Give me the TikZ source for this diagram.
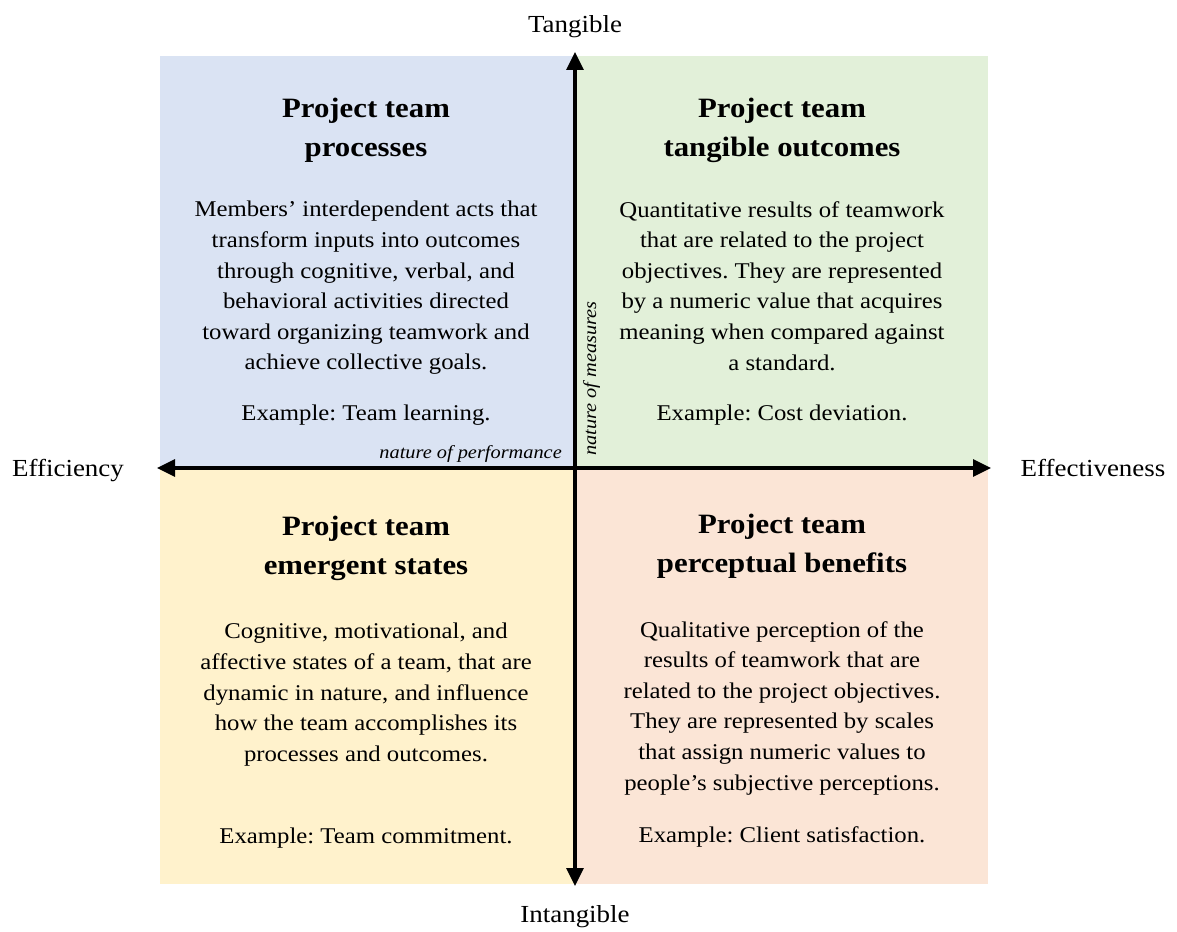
\documentclass[tikz,border=0pt]{standalone}
\usepackage{fontspec}
\setmainfont[FakeStretch=1.1]{Liberation Serif}
\usetikzlibrary{arrows.meta}
\definecolor{qblue}{HTML}{DAE3F3}
\definecolor{qgreen}{HTML}{E2F0D9}
\definecolor{qyellow}{HTML}{FFF2CC}
\definecolor{qpink}{HTML}{FBE5D6}
\frenchspacing
\begin{document}
\begin{tikzpicture}[x=1pt,y=-1pt,
  ttl/.style={anchor=north,align=center,inner sep=0pt,font=\fontsize{28}{39}\selectfont\bfseries},
  body/.style={anchor=north,align=center,inner sep=0pt,font=\fontsize{22.5}{30.6}\selectfont\frenchspacing},
  axislbl/.style={inner sep=0pt,font=\fontsize{24.5}{28}\selectfont},
  axisname/.style={inner sep=0pt,font=\fontsize{18.5}{22}\selectfont\itshape},
  axis/.style={line width=3.2pt,-{Triangle[length=18pt,width=17pt]}}]
\useasboundingbox (0,0) rectangle (1177,931);
% quadrant backgrounds
\fill[qblue]   (160,56) rectangle (575,468);
\fill[qgreen]  (575,56) rectangle (988,468);
\fill[qyellow] (160,468) rectangle (575,884);
\fill[qpink]   (575,468) rectangle (988,884);
% centre and axis ends
\coordinate (o) at (575,468);
\coordinate (up) at (575,52);
\coordinate (dn) at (575,886);
\coordinate (lt) at (157,468);
\coordinate (rt) at (991,468);
\draw[axis] (o) -- (up);
\draw[axis] (o) -- (dn);
\draw[axis] (o) -- (lt);
\draw[axis] (o) -- (rt);
% axis labels
\node[axislbl] (tang) at (575,27) {Tangible};
\node[axislbl] (intang) at (575,917) {Intangible};
\node[axislbl] (eff) at (68,471) {Efficiency};
\node[axislbl] (effv) at (1093,468) {Effectiveness};
\node[axisname,anchor=base east] (perf) at (562,458) {nature of performance};
\node[axisname,anchor=base west,rotate=90] (meas) at (596,456) {nature of measures};
% top-left: processes
\node[ttl] (t1) at (366,98) {Project team\\processes};
\node[body] (b1) at (366,201) {Members' interdependent acts that\\transform inputs into outcomes\\through cognitive, verbal, and\\behavioral activities directed\\toward organizing teamwork and\\achieve collective goals.};
\node[body] (e1) at (366,405) {Example: Team learning.};
% top-right: tangible outcomes
\node[ttl] (t2) at (782,98) {Project team\\tangible outcomes};
\node[body] (b2) at (782,201) {Quantitative results of teamwork\\that are related to the project\\objectives. They are represented\\by a numeric value that acquires\\meaning when compared against\\a standard.};
\node[body] (e2) at (782,405) {Example: Cost deviation.};
% bottom-left: emergent states
\node[ttl] (t3) at (366,516) {Project team\\emergent states};
\node[body] (b3) at (366,623) {Cognitive, motivational, and\\affective states of a team, that are\\dynamic in nature, and influence\\how the team accomplishes its\\processes and outcomes.};
\node[body] (e3) at (366,828) {Example: Team commitment.};
% bottom-right: perceptual benefits
\node[ttl] (t4) at (782,514) {Project team\\perceptual benefits};
\node[body] (b4) at (782,621) {Qualitative perception of the\\results of teamwork that are\\related to the project objectives.\\They are represented by scales\\that assign numeric values to\\people's subjective perceptions.};
\node[body] (e4) at (782,826) {Example: Client satisfaction.};
\end{tikzpicture}
\end{document}
